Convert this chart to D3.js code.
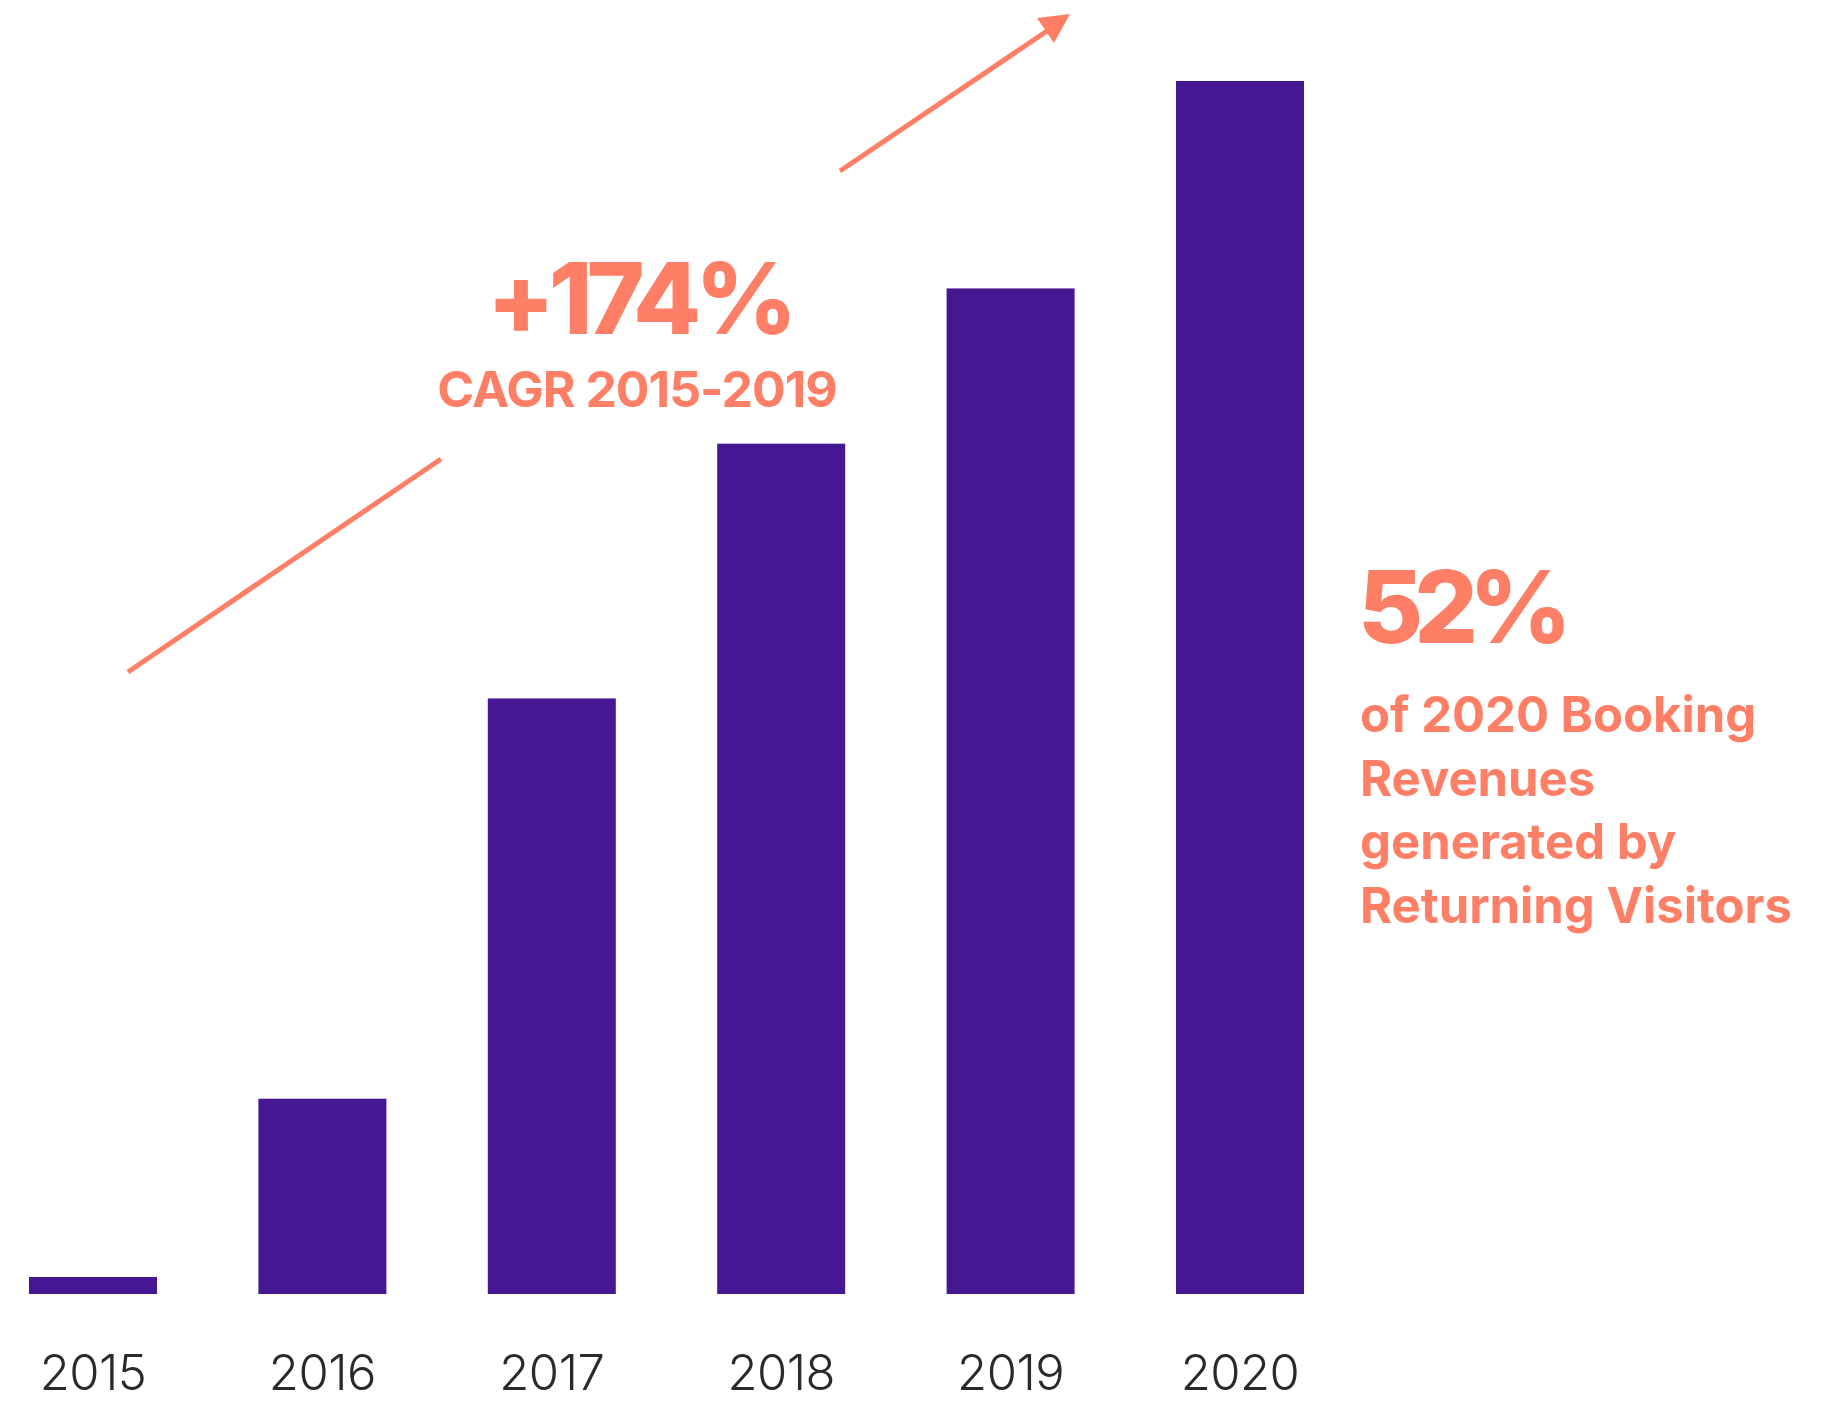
<!DOCTYPE html>
<html>
<head>
<meta charset="utf-8">
<script src="https://cdn.jsdelivr.net/npm/d3@7"></script>
<style>
  html, body { margin: 0; padding: 0; background: #ffffff; }
  svg { display: block; }
</style>
</head>
<body>
<svg id="chart" width="1842" height="1401"></svg>
<script>
// Booking revenues by year, indexed to 2020 = 100
const years = ["2015", "2016", "2017", "2018", "2019", "2020"];
const revenueIndex = [1.4, 16.1, 49.1, 70.1, 82.9, 100];

// Callout texts
const growthValue = "+174%";
const growthLabel = "CAGR 2015-2019";
const shareValue = "52%";
const shareLines = ["of 2020 Booking", "Revenues", "generated by", "Returning Visitors"];

const purple = "#461793";
const coral = "#FF7F66";
const ink = "#2a2a2a";

const svg = d3.select("#chart");

const x = d3.scaleBand()
  .domain(years)
  .range([29, 1304])
  .paddingInner(0.442)
  .paddingOuter(0);

const y = d3.scaleLinear()
  .domain([0, 100])
  .range([1294, 81]);

const data = years.map((yr, i) => ({ year: yr, value: revenueIndex[i] }));

// Bars
svg.append("g")
  .selectAll("rect")
  .data(data)
  .join("rect")
  .attr("x", d => x(d.year))
  .attr("y", d => y(d.value))
  .attr("width", x.bandwidth())
  .attr("height", d => y(0) - y(d.value))
  .attr("fill", purple);

// Year axis (labels only)
const xAxis = d3.axisBottom(x).tickSize(0).tickPadding(0);
const axisG = svg.append("g")
  .attr("transform", "translate(0,1390)")
  .call(xAxis);
axisG.select(".domain").remove();
axisG.selectAll("text")
  .attr("dy", 0)
  .attr("y", 0)
  .attr("font-family", "Inter, sans-serif")
  .attr("font-weight", 300)
  .attr("font-size", 49)
  .attr("letter-spacing", -0.5)
  .attr("fill", ink);

// Growth arrow: split line with a gap for the callout text
const arrowG = svg.append("g").attr("stroke", coral).attr("stroke-width", 5).attr("fill", "none");
arrowG.append("line").attr("x1", 128).attr("y1", 672).attr("x2", 441).attr("y2", 459);
arrowG.append("line").attr("x1", 840).attr("y1", 171).attr("x2", 1050).attr("y2", 29);
svg.append("path")
  .attr("d", "M1070,14 L1037,18 L1054,43 Z")
  .attr("fill", coral);

// Growth callout
svg.append("text")
  .attr("x", 639).attr("y", 334)
  .attr("text-anchor", "middle")
  .attr("font-family", "Inter, sans-serif")
  .attr("font-weight", 800)
  .attr("font-size", 99)
  .attr("letter-spacing", -6)
  .attr("fill", coral)
  .text(growthValue);

svg.append("text")
  .attr("x", 637).attr("y", 407)
  .attr("text-anchor", "middle")
  .attr("font-family", "Inter, sans-serif")
  .attr("font-weight", 700)
  .attr("font-size", 50)
  .attr("letter-spacing", -1)
  .attr("fill", coral)
  .text(growthLabel);

// Share callout
svg.append("text")
  .attr("x", 1358).attr("y", 643)
  .attr("font-family", "Inter, sans-serif")
  .attr("font-weight", 800)
  .attr("font-size", 100)
  .attr("letter-spacing", -9)
  .attr("fill", coral)
  .text(shareValue);

svg.append("g")
  .selectAll("text")
  .data(shareLines)
  .join("text")
  .attr("x", 1360)
  .attr("y", (d, i) => 732 + i * 63.5)
  .attr("font-family", "Inter, sans-serif")
  .attr("font-weight", 700)
  .attr("font-size", 49)
  .attr("fill", coral)
  .text(d => d);
</script>
</body>
</html>
